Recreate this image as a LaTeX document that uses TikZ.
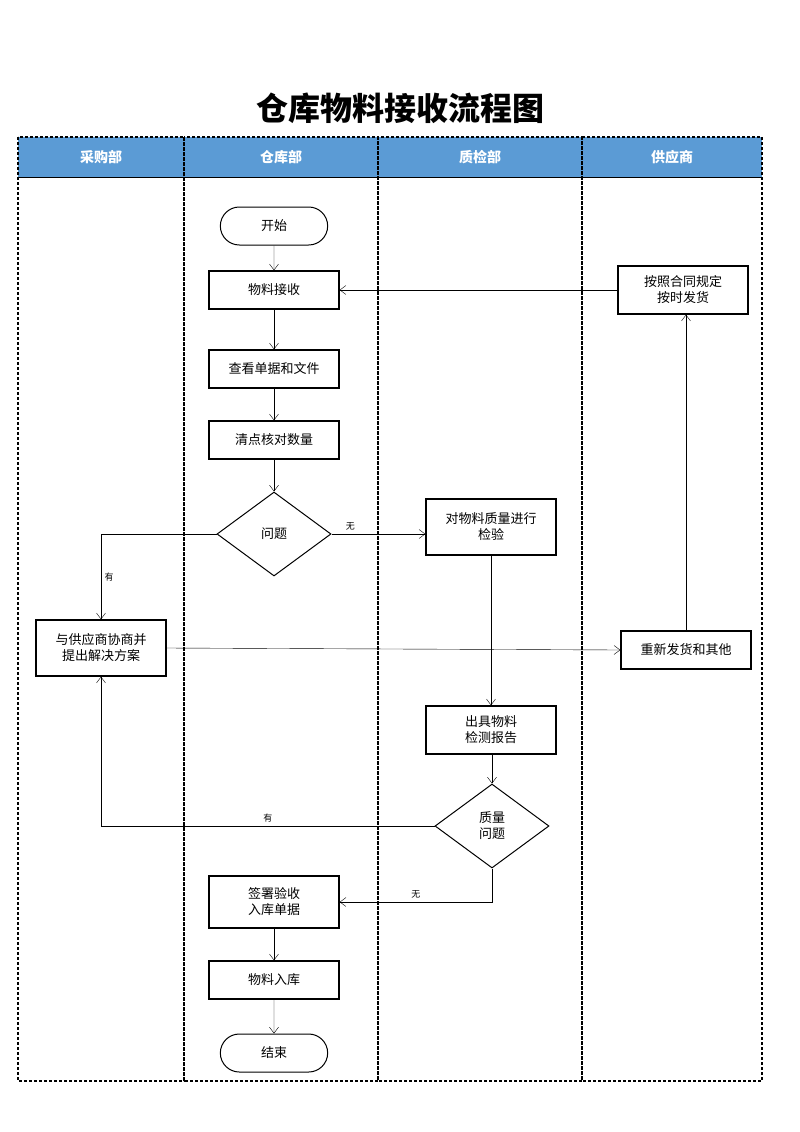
\documentclass[tikz,border=0pt]{standalone}
\usepackage{fontspec}
\setmainfont{Noto Sans CJK SC}
\usetikzlibrary{shapes.geometric,shapes.misc,arrows.meta}
\definecolor{headblue}{RGB}{91,155,213}
\begin{document}
\begin{tikzpicture}[x=1pt, y=-1pt, font=\fontsize{13}{16}\selectfont,
  box/.style={draw, line width=1.3pt, minimum width=130pt, minimum height=38pt, align=center, inner sep=2pt},
  term/.style={draw, line width=1pt, rounded rectangle, minimum width=114pt, minimum height=38pt},
  decide/.style={draw, line width=1pt, diamond, aspect=1.36, minimum width=114pt, minimum height=84pt, inner sep=0pt, align=center},
  flow/.style={-{Straight Barb[length=6pt,width=9pt]}},
  lane/.style={draw, densely dashed, line width=1.2pt}]
  \useasboundingbox (0,0) rectangle (800,1132);

  % Title and lanes
  \node[font=\fontsize{32}{36}\selectfont\bfseries] (title) at (400,108) {仓库物料接收流程图};
  \fill[headblue] (18,137) rectangle (762,177);
  \draw[thick] (18,177) -- (762,177);
  \foreach \xa/\xb/\name in {18/184/采购部, 184/378/仓库部, 378/582/质检部, 582/762/供应商} {
    \draw[lane] (\xa,137) rectangle (\xb,1081);
    \node[text=white, font=\fontsize{14}{16}\selectfont\bfseries] at ({(\xa+\xb)/2},157) {\name};
  }

  % Nodes
  \node[term] (start) at (274,226) {开始};
  \node[box] (recv) at (274,290) {物料接收};
  \node[box] (check) at (274,369) {查看单据和文件};
  \node[box] (count) at (274,440) {清点核对数量};
  \node[decide] (q1) at (274,534) {问题};
  \node[box, minimum height=56pt] (inspect) at (491,527) {对物料质量进行\\检验};
  \node[box, minimum height=56pt] (nego) at (101,648) {与供应商协商并\\提出解决方案};
  \node[box] (resend) at (686,650) {重新发货和其他};
  \node[box, minimum height=48pt] (ship) at (683,290) {按照合同规定\\按时发货};
  \node[box, minimum height=48pt] (report) at (491,730) {出具物料\\检测报告};
  \node[decide] (q2) at (492,826) {质量\\问题};
  \node[box, minimum height=52pt] (sign) at (274,902) {签署验收\\入库单据};
  \node[box] (store) at (274,980) {物料入库};
  \node[term] (end) at (274,1053) {结束};

  % Connectors
  \draw[flow] (start) -- (recv);
  \draw[flow] (recv) -- (check);
  \draw[flow] (check) -- (count);
  \draw[flow] (count) -- (q1);
  \draw[flow] (q1.east) -- node[above, pos=0.2, font=\small] {无} (inspect.west |- q1.east);
  \draw[flow] (q1.west) -| node[right, pos=0.75, font=\small] {有} (nego.north);
  \draw[flow] (nego.east) -- (resend.west);
  \draw[flow] (resend.north) -- (resend.north |- ship.south);
  \draw[flow] (ship.west |- recv.east) -- (recv.east);
  \draw[flow] (inspect.south) -- (report.north -| inspect.south);
  \draw[flow] (report.south -| q2.north) -- (q2.north);
  \draw[flow] (q2.west) -| node[above, pos=0.25, font=\small] {有} (nego.south);
  \draw[flow] (q2.south) |- node[above, pos=0.75, font=\small] {无} (sign.east);
  \draw[flow] (sign) -- (store);
  \draw[flow] (store) -- (end);
\end{tikzpicture}
\end{document}
